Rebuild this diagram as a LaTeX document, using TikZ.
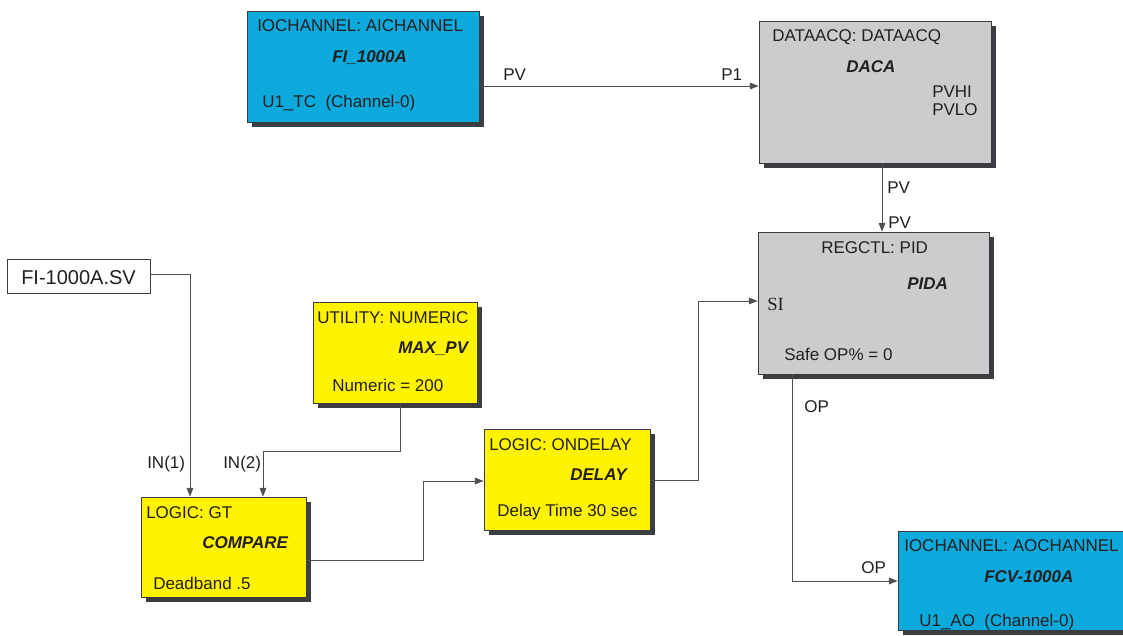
\documentclass[tikz,border=0pt]{standalone}
\usepackage{fontspec}
\setmainfont{Liberation Sans}
\newfontfamily\sifont{Liberation Serif}
\usetikzlibrary{fit,shadows,arrows.meta}
\definecolor{aicyan}{RGB}{12,170,220}
\definecolor{boxgray}{RGB}{204,204,206}
\definecolor{boxyellow}{RGB}{255,243,0}
\definecolor{shadowgray}{RGB}{58,62,66}
\definecolor{edgegray}{RGB}{60,60,60}
\definecolor{linegray}{RGB}{80,80,80}
\definecolor{txt}{RGB}{35,31,32}
\begin{document}
\begin{tikzpicture}[x=0.75pt,y=-0.75pt,
  blk/.style={draw=edgegray, line width=0.6pt, inner sep=0pt,
    drop shadow={shadow xshift=3.75pt, shadow yshift=-3.75pt, fill=shadowgray, opacity=1}},
  cyanbox/.style={blk, fill=aicyan},
  graybox/.style={blk, fill=boxgray},
  yellowbox/.style={blk, fill=boxyellow},
  plainbox/.style={draw=edgegray, line width=0.6pt, inner sep=0pt, fill=white},
  t/.style={anchor=base west, inner sep=0pt, text=txt, font=\fontsize{12.75}{15}\selectfont},
  tb/.style={t, font=\fontsize{12.75}{15}\selectfont\bfseries\itshape},
  conn/.style={draw=linegray, line width=0.7pt},
  arr/.style={conn, -{Triangle[length=6.5pt,width=5pt]}},
]
\useasboundingbox (0,0) rectangle (1123,635);
\fill[white] (0,0) rectangle (1123,635);

% boxes
\node[cyanbox, fit={(247,11) (479,122)}] (ai) {};
\node[graybox, fit={(759,21) (991,163)}] (daq) {};
\node[graybox, fit={(758,232) (989,374)}] (pid) {};
\node[plainbox, fit={(7,259) (150,293)}] (sv) {};
\node[yellowbox, fit={(313,302) (477,403)}] (num) {};
\node[yellowbox, fit={(141,497) (306,597)}] (cmp) {};
\node[yellowbox, fit={(484,429) (650,530)}] (dly) {};
\node[cyanbox, fit={(898,531) (1135,630)}] (ao) {};

% texts AI
\node[t] (ait1) at (257,32) {IOCHANNEL: AICHANNEL};
\node[tb] (ait2) at (332,63) {FI\_1000A};
\node[t] (ait3) at (262,107) {U1\_TC\ \ (Channel-0)};
% DAQ
\node[t] (dt1) at (772,42) {DATAACQ: DATAACQ};
\node[tb] (dt2) at (846,73) {DACA};
\node[t] (dt3) at (932,98) {PVHI};
\node[t] (dt4) at (932,115) {PVLO};
% PID
\node[t] (pt1) at (821,253) {REGCTL: PID};
\node[tb] (pt2) at (907,289) {PIDA};
\node[t, font=\sifont\fontsize{14}{16}\selectfont] (pt3) at (767,310) {SI};
\node[t] (pt4) at (784,360) {Safe OP\% = 0};
% SV
\node[t, font=\fontsize{15}{18}\selectfont] (svt) at (21,284) {FI-1000A.SV};
% NUM
\node[t] (nt1) at (317,323) {UTILITY: NUMERIC};
\node[tb] (nt2) at (398,353) {MAX\_PV};
\node[t] (nt3) at (332,391) {Numeric = 200};
% CMP
\node[t] (ct1) at (146,518) {LOGIC: GT};
\node[tb] (ct2) at (202,548) {COMPARE};
\node[t] (ct3) at (153,589) {Deadband .5};
% DLY
\node[t] (lt1) at (489,450) {LOGIC: ONDELAY};
\node[tb] (lt2) at (570,480) {DELAY};
\node[t] (lt3) at (497,516) {Delay Time 30 sec};
% AO
\node[t] (at1) at (904,551) {IOCHANNEL: AOCHANNEL};
\node[tb] (at2) at (984,582) {FCV-1000A};
\node[t] (at3) at (919,626) {U1\_AO\ \ (Channel-0)};

% connector labels
\node[t] (lpv1) at (503,80) {PV};
\node[t] (lp1) at (721,80) {P1};
\node[t] (lpv2) at (887,193) {PV};
\node[t] (lpv3) at (888,228) {PV};
\node[t] (lin1) at (147,468) {IN(1)};
\node[t] (lin2) at (223,468) {IN(2)};
\node[t] (lop1) at (804,412) {OP};
\node[t] (lop2) at (861,573) {OP};

% connectors
\draw[arr] (ai.east |- 0,86) -- (daq.west |- 0,86);
\draw[arr] (daq.south -| 882,0) -- (pid.north -| 882,0);
\draw[arr] (sv.east |- 0,274) -| (cmp.north -| 190,0);
\draw[arr] (num.south -| 400,0) -- (400,451) -| (cmp.north -| 263,0);
\draw[arr] (cmp.east |- 0,560) -- (423,560) |- (dly.west |- 0,481);
\draw[arr] (dly.east |- 0,480) -- (698,480) |- (pid.west |- 0,301);
\draw[arr] (pid.south -| 792,0) |- (ao.west |- 0,581);
\end{tikzpicture}
\end{document}
